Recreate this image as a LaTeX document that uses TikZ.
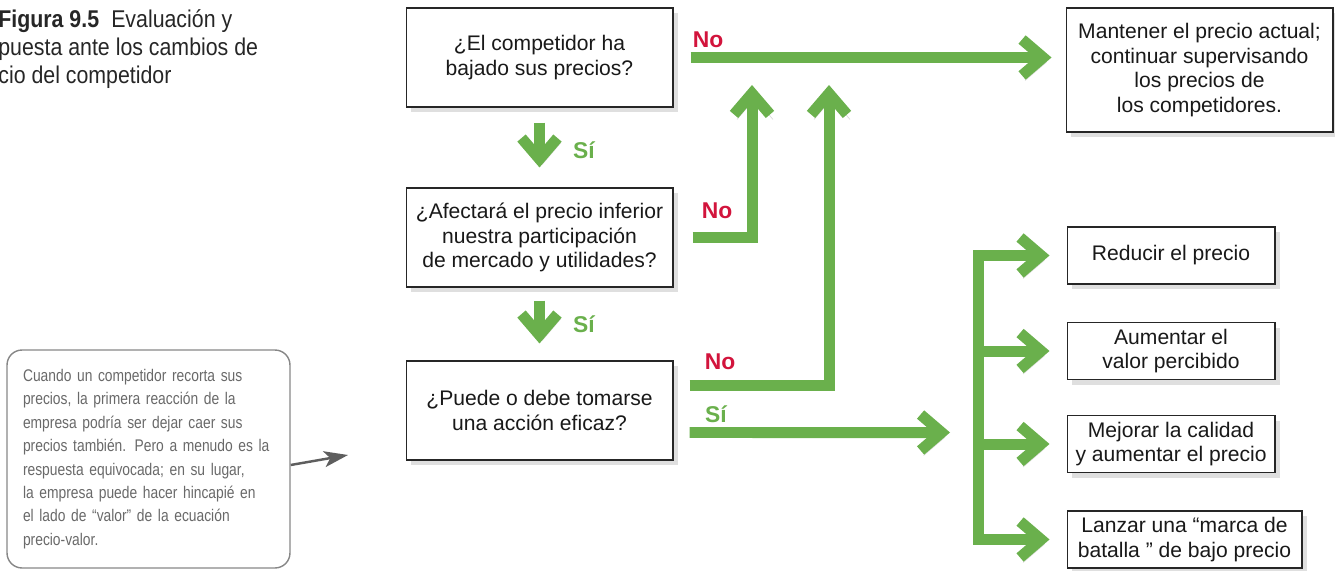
\documentclass[tikz,border=0pt]{standalone}
\usepackage{fontspec}
\setmainfont{Liberation Sans}
\newfontfamily\narrowfont[FakeStretch=0.88]{Liberation Sans}
\newfontfamily\notefont[FakeStretch=0.82]{Liberation Sans}
\usepackage{xcolor}
\usepackage{tikz}
\usetikzlibrary{arrows.meta, shadows}
\definecolor{flowgreen}{RGB}{106,176,76}
\definecolor{nored}{RGB}{210,20,60}
\definecolor{notegray}{RGB}{105,105,105}

\begin{document}
\begin{tikzpicture}[x=0.02cm, y=-0.02cm,
    qbox/.style={rectangle, draw=black!85, line width=0.6pt, fill=white, align=center, inner sep=2pt, text=black!90, font=\fontsize{12}{14}\selectfont, drop shadow={shadow xshift=3pt, shadow yshift=-3pt, opacity=0.25}},
    notebox/.style={rectangle, draw=notegray!80, line width=0.8pt, rounded corners=0.3cm, text width=5.02cm, minimum height=4.36cm, inner xsep=0.32cm, align=left, text=notegray, font=\notefont\fontsize{9.6}{13.3}\selectfont},
    flow/.style={draw=flowgreen, line width=0.22cm, -{Straight Barb[length=0.42cm, width=0.72cm]}, preaction={draw=black, opacity=0.15, transform canvas={shift={(0.06cm,-0.1cm)}}}},
    pointer/.style={draw=notegray!90!black, line width=1.4pt, -{Stealth[length=0.48cm, width=0.32cm, inset=0.12cm]}},
    nolabel/.style={text=nored, font=\bfseries\fontsize{13}{13}\selectfont},
    silabel/.style={text=flowgreen, font=\bfseries\fontsize{13}{13}\selectfont},
]
\useasboundingbox (0,0) rectangle (1335,571);

% caption and side note
\node[anchor=north west, align=left, inner sep=0pt, text=black!85, font=\narrowfont\fontsize{13.8}{16}\selectfont] (caption) at (-2,9) {\textbf{Figura 9.5}\enspace Evaluación y\\puesta ante los cambios de\\cio del competidor};
\node[notebox] (note) at (148.5,459) {Cuando un competidor recorta sus\\precios, la primera reacción de la\\empresa podría ser dejar caer sus\\precios también. Pero a menudo es la\\respuesta equivocada; en su lugar,\\la empresa puede hacer hincapié en\\el lado de “valor” de la ecuación\\precio-valor.};
\coordinate (notetip) at (348,455);
\draw[pointer] ([yshift=-0.12cm]note.east) -- (notetip);

% questions
\node[qbox, minimum width=5.34cm, minimum height=1.98cm] (q1) at (539.5,57.5) {¿El competidor ha\\bajado sus precios?};
\node[qbox, minimum width=5.34cm, minimum height=1.98cm] (q2) at (539.5,237.5) {¿Afectará el precio inferior\\nuestra participación\\de mercado y utilidades?};
\node[qbox, minimum width=5.34cm, minimum height=1.98cm] (q3) at (539.5,410.5) {¿Puede o debe tomarse\\una acción eficaz?};

% outcomes
\node[qbox, minimum width=5.34cm, minimum height=2.48cm] (keep) at (1199.5,70) {Mantener el precio actual;\\continuar supervisando\\los precios de\\los competidores.};
\node[qbox, minimum width=4.16cm, minimum height=1.14cm] (cut) at (1171,255.5) {Reducir el precio};
\node[qbox, minimum width=4.16cm, minimum height=1.14cm] (value) at (1171,351) {Aumentar el\\valor percibido};
\node[qbox, minimum width=4.16cm, minimum height=1.14cm] (quality) at (1171,444) {Mejorar la calidad\\y aumentar el precio};
\node[qbox, minimum width=4.7cm, minimum height=1.14cm] (brand) at (1184.5,539.5) {Lanzar una “marca de\\batalla ” de bajo precio};

% answers
\node[nolabel] (no1) at (708,40) {No};
\node[nolabel] (no2) at (717,211) {No};
\node[nolabel] (no3) at (720,362) {No};
\node[silabel] (si1) at (584,150) {Sí};
\node[silabel] (si2) at (584,324) {Sí};
\node[silabel] (si3) at (716,414) {Sí};

\coordinate (upA) at (752,85);
\coordinate (upB) at (829,85);
\coordinate (fork) at (978,432.5);

\draw[flow, shorten <=0.34cm, shorten >=0.28cm] (q1.east) -- (q1.east -| keep.west);
\draw[flow, shorten <=0.3cm, shorten >=0.4cm] (q1) -- (q2);
\draw[flow, shorten <=0.26cm, shorten >=0.34cm] (q2) -- (q3);
\draw[flow, shorten <=0.38cm] (q2.east) -| (upA);
\draw[flow, shorten <=0.32cm] ([yshift=0.5cm]q3.east) -| (upB);
\draw[flow, shorten <=0.32cm, shorten >=0.56cm] ([yshift=-0.44cm]q3.east) -- (fork);

% branches
\draw[flow, line cap=rect, shorten >=0.34cm] (fork |- brand.west) |- (cut.west);
\foreach \b in {value, quality, brand}
  \draw[flow, shorten >=0.34cm] (fork |- \b.west) -- (\b.west);
\end{tikzpicture}
\end{document}
